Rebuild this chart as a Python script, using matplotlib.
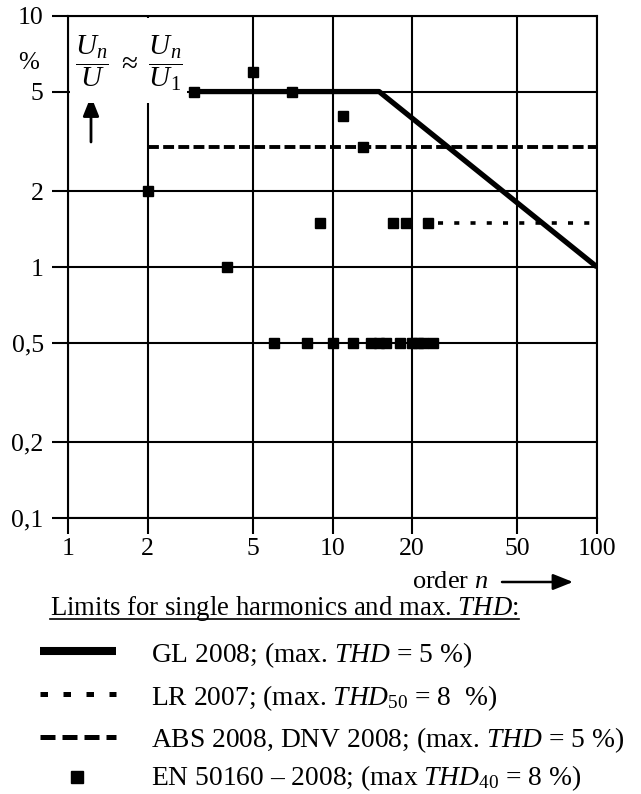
import matplotlib
matplotlib.use("Agg")
import matplotlib.pyplot as plt
from matplotlib.lines import Line2D
from matplotlib.patches import Rectangle
from matplotlib.ticker import NullLocator

plt.rcParams['font.family'] = 'Liberation Serif'
plt.rcParams['mathtext.fontset'] = 'custom'
plt.rcParams['mathtext.rm'] = 'Liberation Serif'
plt.rcParams['mathtext.it'] = 'Liberation Serif:italic'
plt.rcParams['mathtext.bf'] = 'Liberation Serif:bold'

# harmonic voltage limits, % of fundamental, vs harmonic order n
gl_order = [3, 15, 100]
gl_limit = [5, 5, 1]

lr_order = [25, 100]
lr_limit = [1.5, 1.5]

abs_order = [2, 100]
abs_limit = [3, 3]

en_order = [2, 3, 4, 5, 6, 7, 8, 9, 10, 11, 12, 13,
            14, 15, 16, 17, 18, 19, 20, 21, 22, 23, 24]
en_limit = [2, 5, 1, 6, 0.5, 5, 0.5, 1.5, 0.5, 4, 0.5, 3,
            0.5, 0.5, 0.5, 1.5, 0.5, 1.5, 0.5, 0.5, 0.5, 1.5, 0.5]

x_ticks = [1, 2, 5, 10, 20, 50, 100]
x_tick_labels = ['1', '2', '5', '10', '20', '50', '100']
y_ticks = [0.1, 0.2, 0.5, 1, 2, 5, 10]
y_tick_labels = ['0,1', '0,2', '0,5', '1', '2', '5', '10']

legend_title = r'Limits for single harmonics and max. $\mathit{THD}$:'
legend_labels = [
    r'GL 2008; (max. $\mathit{THD}$ = 5 %)',
    r'LR 2007; (max. $\mathit{THD}_{50}$ = 8  %)',
    r'ABS 2008, DNV 2008; (max. $\mathit{THD}$ = 5 %)',
    r'EN 50160 – 2008; (max $\mathit{THD}_{40}$ = 8 %)',
]

W, H = 641, 794


def px(x, y):
    # pixel position (from top left) -> figure fraction
    return x / W, 1 - y / H


fig = plt.figure(figsize=(W / 100, H / 100), dpi=100)
ax = fig.add_axes([68 / W, 1 - 518 / H, 529 / W, 502 / H])

ax.set_xscale('log')
ax.set_yscale('log')
ax.set_xlim(1, 100)
ax.set_ylim(0.1, 10)
ax.set_xticks(x_ticks, x_tick_labels)
ax.set_yticks(y_ticks, y_tick_labels)
ax.xaxis.set_minor_locator(NullLocator())
ax.yaxis.set_minor_locator(NullLocator())
ax.grid(True, color='k', lw=1.5)
ax.tick_params(direction='out', length=11.5, width=1.5, labelsize=18.5, color='k')
ax.tick_params(axis='x', pad=3)
ax.tick_params(axis='y', pad=6)
for s in ax.spines.values():
    s.set_linewidth(1.5)

ax.plot(gl_order, gl_limit, color='k', lw=3.8, solid_capstyle='butt', zorder=4)
ax.plot(lr_order, lr_limit, color='k', lw=2.6, dashes=(1.4, 3.1), zorder=3)
ax.plot(abs_order, abs_limit, color='k', lw=2.8, dashes=(2.8, 1.1), zorder=3)
ax.plot(en_order, en_limit, ls='none', marker='s', ms=6.5, color='k', zorder=5)

# white box behind the quantity label
x0, y0 = px(70, 103)
x1, y1 = px(187, 18)
fig.add_artist(Rectangle((x0, y0), x1 - x0, y1 - y0, transform=fig.transFigure,
                         facecolor='white', edgecolor='none', zorder=2))
fig.text(*px(75, 63), r'$\dfrac{U_n}{U}\ \approx\ \dfrac{U_n}{U_1}$',
         ha='left', va='center', fontsize=21, zorder=3)
arrow_style = '-|>,head_length=0.55,head_width=0.22'
ax.annotate('', xy=px(91, 96), xytext=px(91, 142), xycoords='figure fraction',
            textcoords='figure fraction', annotation_clip=False,
            arrowprops=dict(arrowstyle=arrow_style, color='k', lw=2,
                            mutation_scale=22, shrinkA=0, shrinkB=0))
fig.text(*px(29, 63), '%', ha='center', va='center', fontsize=18)

# axis label for n
fig.text(*px(412, 588), r'order $n$', ha='left', va='baseline', fontsize=19)
ax.annotate('', xy=px(573, 582), xytext=px(502, 582), xycoords='figure fraction',
            textcoords='figure fraction', annotation_clip=False,
            arrowprops=dict(arrowstyle=arrow_style, color='k', lw=1.8,
                            mutation_scale=22, shrinkA=0, shrinkB=0))

# legend block
title = fig.text(*px(50, 615), legend_title, ha='left', va='baseline', fontsize=19.3)
fig.canvas.draw()
bb = title.get_window_extent()
uy = 1 - 619 / H
fig.add_artist(Line2D([bb.x0 / W, bb.x1 / W], [uy, uy], color='k', lw=1.2,
                      transform=fig.transFigure))

handle_y = [651, 694, 737, 777]
base_y = [662, 705, 747, 785]
handle_styles = [
    dict(lw=5.8, solid_capstyle='butt'),
    dict(lw=3.6, dashes=(1.5, 3.1)),
    dict(lw=3.6, dashes=(3.0, 1.4)),
    dict(ls='none', marker='s', ms=9),
]
for lab, hy, by, st in zip(legend_labels, handle_y, base_y, handle_styles):
    fy = 1 - hy / H
    if st.get('marker'):
        fig.add_artist(Line2D([77 / W], [fy], color='k', transform=fig.transFigure, **st))
    else:
        fig.add_artist(Line2D([40 / W, 116 / W], [fy, fy], color='k',
                              transform=fig.transFigure, **st))
    fig.text(*px(151, by), lab, ha='left', va='baseline', fontsize=19.8)

fig.savefig('out.png', dpi=100)
